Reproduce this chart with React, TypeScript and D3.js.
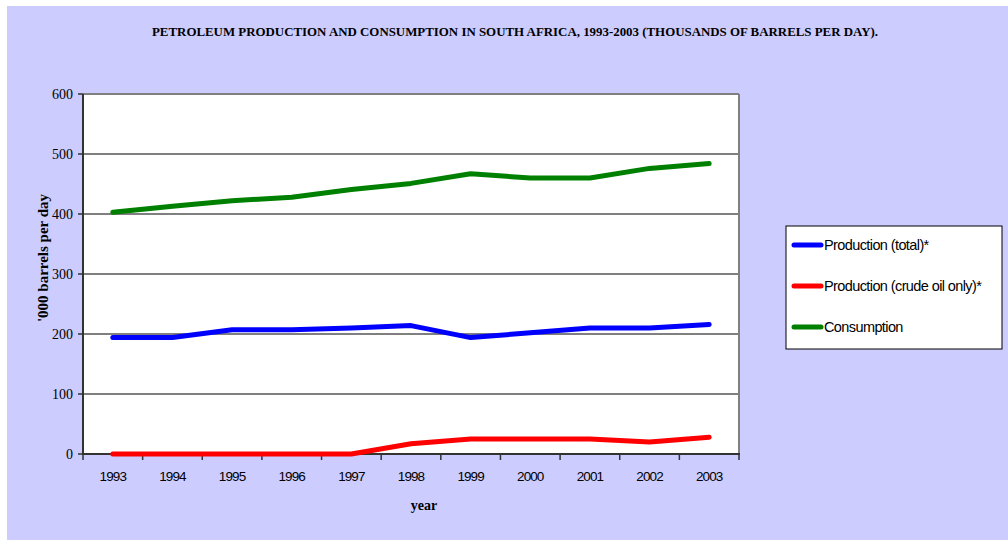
import React from "react";
import * as d3 from "d3";

const years = ["1993", "1994", "1995", "1996", "1997", "1998", "1999", "2000", "2001", "2002", "2003"];
const productionTotal = [194, 194, 207, 207, 210, 214, 194, 202, 210, 210, 216];
const productionCrude = [0, 0, 0, 0, 0, 17, 25, 25, 25, 20, 28];
const consumption = [403, 413, 422, 428, 441, 451, 467, 460, 460, 476, 484];
const yTicks = [0, 100, 200, 300, 400, 500, 600];

const series = [
  { name: "Production (total)*", values: productionTotal, color: "#0000FF" },
  { name: "Production (crude oil only)*", values: productionCrude, color: "#FF0000" },
  { name: "Consumption", values: consumption, color: "#008000" },
];

const W = 1008;
const H = 540;
const plot = { left: 83, right: 739, top: 94, bottom: 454 };

export default function App() {
  const x = d3.scaleBand<string>().domain(years).range([plot.left, plot.right]).paddingInner(0).paddingOuter(0);
  const y = d3.scaleLinear().domain([0, 600]).range([plot.bottom, plot.top]);
  const cx = (yr: string) => (x(yr) as number) + x.bandwidth() / 2;

  const line = d3
    .line<number>()
    .x((_, i) => cx(years[i]))
    .y((v) => y(v));

  const boundaries = years.map((yr) => x(yr) as number).concat([plot.right]);
  const serif = "'Liberation Serif', 'Times New Roman', serif";
  const sans = "'Liberation Sans', Arial, sans-serif";

  const legend = { x: 786, y: 226, w: 216, h: 123 };
  const legendRows = [245, 286, 327];

  return (
    <svg width={W} height={H} style={{ position: "absolute", left: 0, top: 0 }}>
      <rect x={0} y={0} width={W} height={H} fill="#ffffff" />
      <rect x={7} y={6} width={W - 7} height={H - 6} fill="#CCCCFF" />

      <text
        x={515}
        y={36}
        textAnchor="middle"
        fontFamily={serif}
        fontWeight="bold"
        fontSize={13.5}
        textLength={726}
        lengthAdjust="spacingAndGlyphs"
        fill="#000"
      >
        PETROLEUM PRODUCTION AND CONSUMPTION IN SOUTH AFRICA, 1993-2003 (THOUSANDS OF BARRELS PER DAY).
      </text>

      <rect x={plot.left} y={plot.top} width={plot.right - plot.left} height={plot.bottom - plot.top} fill="#ffffff" />

      {yTicks
        .filter((t) => t > 0 && t < 600)
        .map((t) => (
          <line key={"g" + t} x1={plot.left} x2={plot.right} y1={y(t)} y2={y(t)} stroke="#000" strokeWidth={1} />
        ))}

      {/* frame */}
      <line x1={plot.left} x2={plot.right} y1={plot.top} y2={plot.top} stroke="#808080" strokeWidth={2} />
      <line x1={plot.right} x2={plot.right} y1={plot.top} y2={plot.bottom} stroke="#808080" strokeWidth={2} />
      <line x1={plot.left} x2={plot.left} y1={plot.top} y2={plot.bottom + 1} stroke="#333" strokeWidth={2} />
      <line x1={plot.left - 1} x2={plot.right + 1} y1={plot.bottom} y2={plot.bottom} stroke="#333" strokeWidth={2} />

      {yTicks.map((t) => (
        <g key={"y" + t}>
          <line x1={plot.left - 5} x2={plot.left} y1={y(t)} y2={y(t)} stroke="#333" strokeWidth={1.5} />
          <text x={73} y={y(t)} dy="0.35em" textAnchor="end" fontFamily={serif} fontSize={14} fill="#000">
            {t}
          </text>
        </g>
      ))}

      {boundaries.map((b, i) => (
        <line key={"xt" + i} x1={b} x2={b} y1={plot.bottom} y2={plot.bottom + 6} stroke="#333" strokeWidth={1.5} />
      ))}
      {years.map((yr) => (
        <text key={"xl" + yr} x={cx(yr)} y={481} textAnchor="middle" fontFamily={sans} fontSize={13.5} letterSpacing={-0.9} fill="#000">
          {yr}
        </text>
      ))}

      <text x={424} y={510} textAnchor="middle" fontFamily={serif} fontWeight="bold" fontSize={14} fill="#000">
        year
      </text>
      <text
        transform={`translate(48,258) rotate(-90)`}
        textAnchor="middle"
        fontFamily={serif}
        fontWeight="bold"
        fontSize={15}
        fill="#000"
      >
        '000 barrels per day
      </text>

      {series.map((s) => (
        <path
          key={s.name}
          d={line(s.values) as string}
          fill="none"
          stroke={s.color}
          strokeWidth={5}
          strokeLinecap="round"
          strokeLinejoin="round"
        />
      ))}

      <rect x={legend.x} y={legend.y} width={legend.w} height={legend.h} fill="#ffffff" stroke="#000" strokeWidth={1} />
      {series.map((s, i) => (
        <g key={"lg" + i}>
          <line x1={794} x2={821} y1={legendRows[i]} y2={legendRows[i]} stroke={s.color} strokeWidth={5} strokeLinecap="round" />
          <text x={824} y={legendRows[i]} dy="0.35em" fontFamily={sans} fontSize={14.5} letterSpacing={-0.6} fill="#000">
            {s.name}
          </text>
        </g>
      ))}
    </svg>
  );
}
